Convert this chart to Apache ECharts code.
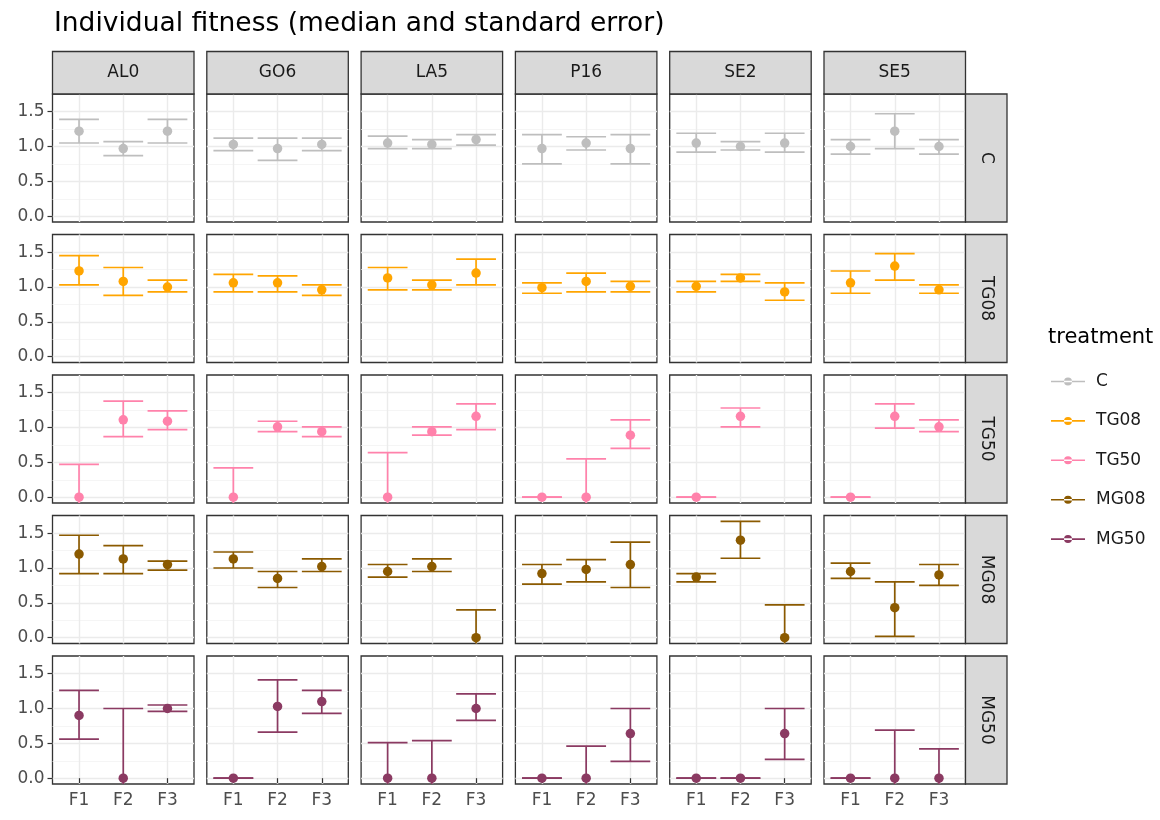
<!DOCTYPE html>
<html><head><meta charset="utf-8">
<script src="https://cdn.jsdelivr.net/npm/echarts@6/dist/echarts.min.js"></script>
<style>html,body{margin:0;padding:0;background:#fff}#c{width:1160px;height:820px}</style>
</head><body><div id="c"></div>
<script>
// ---------- data ----------
const populations = ['AL0', 'GO6', 'LA5', 'P16', 'SE2', 'SE5'];
const treatments = ['C', 'TG08', 'TG50', 'MG08', 'MG50'];
const generations = ['F1', 'F2', 'F3'];
const yTicks = [0, 0.5, 1.0, 1.5];
const yMinorTicks = [0.25, 0.75, 1.25];

// per treatment: one [F1,F2,F3] triple per population (AL0..SE5)
// low = null : lower end of the error bar lies below the visible range
const medC = [[1.22,0.97,1.22],[1.03,0.97,1.03],[1.05,1.03,1.10],[0.97,1.05,0.97],[1.05,1.00,1.05],[1.00,1.22,1.00]];
const lowC = [[1.05,0.87,1.05],[0.94,0.80,0.94],[0.97,0.97,1.02],[0.75,0.95,0.75],[0.92,0.95,0.92],[0.89,0.97,0.89]];
const upC  = [[1.39,1.07,1.39],[1.12,1.12,1.12],[1.15,1.10,1.17],[1.17,1.14,1.17],[1.19,1.07,1.19],[1.10,1.47,1.10]];

const medTG08 = [[1.23,1.08,1.00],[1.06,1.06,0.96],[1.13,1.03,1.20],[0.99,1.08,1.01],[1.01,1.13,0.93],[1.06,1.30,0.96]];
const lowTG08 = [[1.03,0.88,0.93],[0.93,0.93,0.88],[0.96,0.96,1.03],[0.91,0.93,0.93],[0.93,1.08,0.81],[0.91,1.10,0.91]];
const upTG08  = [[1.45,1.28,1.10],[1.18,1.16,1.03],[1.28,1.10,1.40],[1.06,1.20,1.08],[1.08,1.18,1.06],[1.23,1.48,1.03]];

const medTG50 = [[0,1.11,1.09],[0,1.01,0.94],[0,0.94,1.16],[0,0,0.89],[0,1.16,null],[0,1.16,1.01]];
const lowTG50 = [[null,0.87,0.97],[null,0.94,0.87],[null,0.89,0.97],[0,null,0.70],[0,1.01,null],[0,0.99,0.94]];
const upTG50  = [[0.47,1.38,1.24],[0.42,1.09,1.01],[0.64,1.01,1.34],[0,0.55,1.11],[0,1.28,null],[0,1.34,1.11]];

const medMG08 = [[1.20,1.13,1.05],[1.13,0.85,1.02],[0.95,1.02,0],[0.92,0.98,1.05],[0.87,1.40,0],[0.95,0.43,0.90]];
const lowMG08 = [[0.92,0.92,0.97],[1.00,0.72,0.95],[0.87,0.95,null],[0.77,0.80,0.72],[0.80,1.14,null],[0.85,0.02,0.75]];
const upMG08  = [[1.47,1.32,1.10],[1.23,0.95,1.13],[1.05,1.13,0.40],[1.05,1.12,1.37],[0.92,1.67,0.47],[1.07,0.80,1.05]];

const medMG50 = [[0.90,0,1.00],[0,1.03,1.10],[0,0,1.00],[0,0,0.64],[0,0,0.64],[0,0,0]];
const lowMG50 = [[0.56,null,0.96],[0,0.66,0.93],[null,null,0.83],[0,null,0.24],[0,0,0.27],[0,null,null]];
const upMG50  = [[1.26,1.00,1.05],[0,1.41,1.26],[0.51,0.54,1.21],[0,0.46,1.00],[0,0,1.00],[0,0.69,0.42]];

const medians = [medC, medTG08, medTG50, medMG08, medMG50];
const lowers = [lowC, lowTG08, lowTG50, lowMG08, lowMG50];
const uppers = [upC, upTG08, upTG50, upMG08, upMG50];

// ---------- style / layout ----------
const colors = ['#BEBEBE', '#FFA500', '#FF82AB', '#8B5A00', '#8B3A62'];
const FONT = "'DejaVu Sans', sans-serif";
const yMin = -0.0835, yMax = 1.7535;
const xMin = 0.4, xMax = 3.6;
const L = {left0: 52.5, colStep: 154.3, pw: 141.5, top0: 94, rowStep: 140.5, ph: 128, stripTop: 51.5, stripW: 41.5};

const grids = [], xAxes = [], yAxes = [], series = [], graphics = [];

treatments.forEach((t, r) => {
  populations.forEach((pop, c) => {
    const p = r * populations.length + c;
    const left = L.left0 + c * L.colStep, top = L.top0 + r * L.rowStep;
    grids.push({left, top, width: L.pw, height: L.ph, show: true, backgroundColor: '#fff',
      borderColor: '#333333', borderWidth: 1.3, containLabel: false, outerBoundsMode: 'none'});
    const bottomRow = r === treatments.length - 1, leftCol = c === 0;
    xAxes.push({gridIndex: p, type: 'value', min: xMin, max: xMax,
      axisLine: {show: false},
      axisTick: {show: bottomRow, customValues: [1, 2, 3], length: 5, lineStyle: {color: '#333333', width: 1.2}},
      axisLabel: {show: bottomRow, customValues: [1, 2, 3], margin: 8, formatter: v => generations[Math.round(v) - 1],
        color: '#4D4D4D', fontSize: 17, fontFamily: FONT},
      splitLine: {show: true, lineStyle: {color: '#EBEBEB', width: 1.4}}});
    yAxes.push({gridIndex: p, type: 'value', min: yMin, max: yMax,
      axisLine: {show: false},
      axisTick: {show: leftCol, customValues: yTicks, length: 5, lineStyle: {color: '#333333', width: 1.2}},
      axisLabel: {show: leftCol, customValues: yTicks, margin: 8, formatter: v => Number(v).toFixed(1),
        color: '#4D4D4D', fontSize: 17, fontFamily: FONT},
      splitLine: {show: true, lineStyle: {color: '#EBEBEB', width: 1.4}}});
    yAxes.push({gridIndex: p, type: 'value', min: yMin, max: yMax,
      axisLine: {show: false},
      axisTick: {show: false, customValues: yMinorTicks},
      axisLabel: {show: false, customValues: yMinorTicks},
      splitLine: {show: true, lineStyle: {color: '#F2F2F2', width: 0.8}}});

    const bars = [], pts = [];
    generations.forEach((g, k) => {
      const m = medians[r][c][k];
      if (m === null) return;
      const lo = lowers[r][c][k], hi = uppers[r][c][k];
      bars.push([k + 1, lo === null ? yMin - 0.5 : lo, hi, lo === null ? 0 : 1]);
      pts.push([k + 1, m]);
    });
    series.push({type: 'custom', name: t, xAxisIndex: p, yAxisIndex: 2 * p, clip: true, z: 2,
      itemStyle: {color: colors[r]},
      encode: {x: 0, y: [1, 2]},
      data: bars,
      renderItem: (params, api) => {
        const x = api.value(0), lo = api.value(1), hi = api.value(2), cap = api.value(3);
        const pt = api.coord([x, hi]), pb = api.coord([x, lo]);
        const half = api.size([0.9, 0])[0] / 2;
        const st = {stroke: colors[r], lineWidth: 1.7, fill: null};
        const ch = [
          {type: 'line', shape: {x1: pt[0], y1: pt[1], x2: pb[0], y2: pb[1]}, style: st},
          {type: 'line', shape: {x1: pt[0] - half, y1: pt[1], x2: pt[0] + half, y2: pt[1]}, style: st}
        ];
        if (cap) ch.push({type: 'line', shape: {x1: pb[0] - half, y1: pb[1], x2: pb[0] + half, y2: pb[1]}, style: st});
        return {type: 'group', children: ch};
      }});
    series.push({type: 'scatter', name: t, xAxisIndex: p, yAxisIndex: 2 * p, z: 3,
      symbol: 'circle', symbolSize: 9.5, itemStyle: {color: colors[r], opacity: 1},
      data: pts, silent: true});
  });
});

// strips
populations.forEach((pop, c) => {
  const left = L.left0 + c * L.colStep;
  graphics.push({type: 'rect', z: 10, shape: {x: left, y: L.stripTop, width: L.pw, height: L.top0 - L.stripTop},
    style: {fill: '#D9D9D9', stroke: '#333333', lineWidth: 1.3}});
  graphics.push({type: 'text', z: 11, x: left + L.pw / 2, y: (L.stripTop + L.top0) / 2,
    style: {text: pop, align: 'center', verticalAlign: 'middle', fill: '#1A1A1A', fontSize: 17, fontFamily: FONT}});
});
const stripX = L.left0 + 5 * L.colStep + L.pw;
treatments.forEach((t, r) => {
  const top = L.top0 + r * L.rowStep;
  graphics.push({type: 'rect', z: 10, shape: {x: stripX, y: top, width: L.stripW, height: L.ph},
    style: {fill: '#D9D9D9', stroke: '#333333', lineWidth: 1.3}});
  graphics.push({type: 'text', z: 11, x: stripX + L.stripW / 2, y: top + L.ph / 2, rotation: -Math.PI / 2,
    style: {text: t, align: 'center', verticalAlign: 'middle', fill: '#1A1A1A', fontSize: 17, fontFamily: FONT}});
});

const option = {
  animation: false,
  backgroundColor: '#fff',
  title: [
    {text: 'Individual fitness (median and standard error)', left: 49, top: 6,
      textStyle: {fontSize: 26.5, fontWeight: 'normal', color: '#000', fontFamily: FONT}},
    {text: 'treatment', left: 1043, top: 322,
      textStyle: {fontSize: 21, fontWeight: 'normal', color: '#000', fontFamily: FONT}}
  ],
  legend: {data: treatments, orient: 'vertical', left: 1046, top: 368, itemWidth: 34, itemHeight: 9,
    itemGap: 22.4, selectedMode: false,
    icon: 'path://M0,3.7h34v1.6H0z M17,0.5a4,4 0 1,0 0.001,0z',
    textStyle: {fontSize: 17, color: '#1A1A1A', fontFamily: FONT, padding: [0, 0, 0, 6]}},
  grid: grids, xAxis: xAxes, yAxis: yAxes, series, graphic: graphics
};
const chart = echarts.init(document.getElementById('c'), null, {renderer: 'canvas'});
chart.setOption(option);
</script></body></html>
